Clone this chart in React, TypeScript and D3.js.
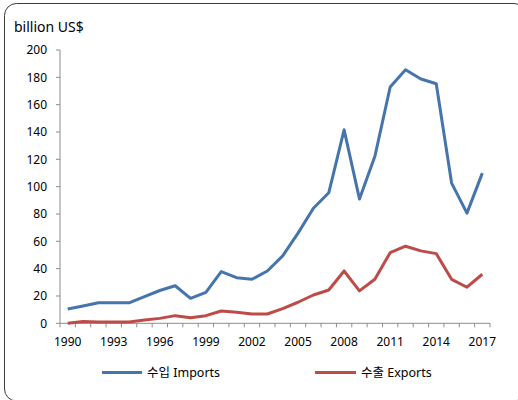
import React from "react";
import * as d3 from "d3";

const years: number[] = [1990,1991,1992,1993,1994,1995,1996,1997,1998,1999,2000,2001,2002,2003,2004,2005,2006,2007,2008,2009,2010,2011,2012,2013,2014,2015,2016,2017];
const imports: number[] = [10.5,12.7,15,15,15,19.5,24,27.5,18.3,22.7,37.8,33.4,32.2,38.3,49.3,66,84.2,95.5,141.6,91,122,172.9,185.6,178.8,175.3,102.6,80.6,109.9];
const exportsV: number[] = [0,1.3,1,1,1,2.4,3.6,5.6,4.1,5.6,9,8,6.8,6.8,10.7,15.4,20.7,24.4,38.3,23.7,32.2,51.7,56.4,53,51,32.2,26.4,35.9];
const yTicks: number[] = [0,20,40,60,80,100,120,140,160,180,200];
const xLabelYears: number[] = [1990,1993,1996,1999,2002,2005,2008,2011,2014,2017];
const seriesNames: string[] = ["수입 Imports", "수출 Exports"];
const seriesColors: string[] = ["#4674AC", "#BD4C49"];

const W = 518, H = 400;
const left = 60, right = 490, top = 50, bottom = 323.3;
const font = "'Noto Sans', 'Noto Sans CJK KR', sans-serif";

export default function App() {
  const x = d3.scaleBand<number>().domain(years).range([left, right]).padding(0);
  const y = d3.scaleLinear().domain([0, 200]).range([bottom, top]);
  const cx = (yr: number) => (x(yr) as number) + x.bandwidth() / 2;
  const line = (vals: number[]) =>
    d3.line<number>().x((_, i) => cx(years[i])).y((v) => y(v))(vals) as string;
  const boundaries = years.map((yr) => x(yr) as number).concat([right]);
  const axisColor = "#8C8C8C";
  return (
    <div style={{ position: "absolute", left: 0, top: 0 }}>
      <svg width={W} height={H} style={{ display: "block" }}>
        <rect x={4.5} y={3.5} width={521.5} height={397.5} rx={12} ry={12} fill="#fff" stroke="#3C3C3C" strokeWidth={1} />
        <text x={14} y={32} fontFamily={font} fontSize={14} fill="#000">billion US$</text>
        {/* y axis */}
        <line x1={left} x2={left} y1={top} y2={bottom} stroke={axisColor} strokeWidth={1} />
        {yTicks.map((t) => (
          <g key={t}>
            <line x1={left - 4} x2={left} y1={y(t)} y2={y(t)} stroke={axisColor} strokeWidth={1} />
            <text x={47} y={y(t)} dy="0.35em" textAnchor="end" fontFamily={font} fontSize={12} fill="#000">{t}</text>
          </g>
        ))}
        {/* x axis */}
        <line x1={left} x2={right} y1={bottom} y2={bottom} stroke={axisColor} strokeWidth={1} />
        {boundaries.map((b, i) => (
          <line key={i} x1={b} x2={b} y1={bottom} y2={bottom + 4} stroke={axisColor} strokeWidth={1} />
        ))}
        {xLabelYears.map((yr) => (
          <text key={yr} x={cx(yr)} y={346} textAnchor="middle" fontFamily={font} fontSize={12} fill="#000">{yr}</text>
        ))}
        <path d={line(exportsV)} fill="none" stroke={seriesColors[1]} strokeWidth={3} strokeLinejoin="round" />
        <path d={line(imports)} fill="none" stroke={seriesColors[0]} strokeWidth={3} strokeLinejoin="round" />
        {/* legend */}
        <line x1={102} x2={142} y1={372.5} y2={372.5} stroke={seriesColors[0]} strokeWidth={3} />
        <text x={147} y={377} fontFamily={font} fontSize={12.5} fill="#000">{seriesNames[0]}</text>
        <line x1={315} x2={356} y1={372.5} y2={372.5} stroke={seriesColors[1]} strokeWidth={3} />
        <text x={361} y={377} fontFamily={font} fontSize={12.5} fill="#000">{seriesNames[1]}</text>
      </svg>
    </div>
  );
}
